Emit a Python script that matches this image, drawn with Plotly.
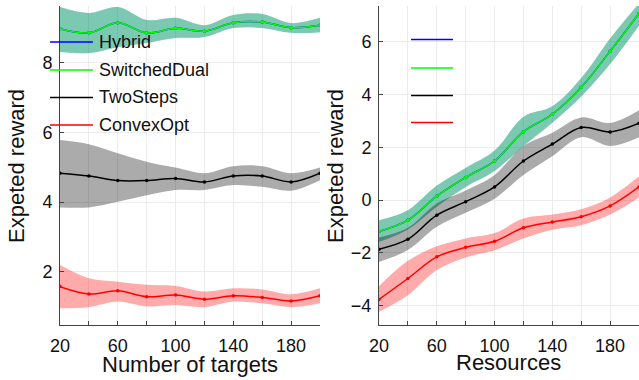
import plotly.graph_objects as go

# ---------------- data ----------------
x_vals = [20, 40, 60, 80, 100, 120, 140, 160, 180, 200]
x_tick_vals = [20, 40, 60, 80, 100, 120, 140, 160, 180, 200]
x_tick_text = ["20", "", "60", "", "100", "", "140", "", "180", ""]
series_names = ["Hybrid", "SwitchedDual", "TwoSteps", "ConvexOpt"]

# left panel: Number of targets
l_hybrid = [8.97, 8.85, 9.14, 8.85, 8.98, 8.90, 9.14, 9.16, 9.00, 9.07]
l_hybrid_hi = [9.59, 9.42, 9.59, 9.22, 9.28, 9.07, 9.36, 9.39, 9.13, 9.28]
l_hybrid_lo = [8.30, 8.27, 8.44, 8.56, 8.70, 8.73, 8.99, 8.99, 8.85, 8.87]
l_switched = [8.97, 8.85, 9.14, 8.85, 8.98, 8.90, 9.14, 9.16, 9.00, 9.07]
l_switched_hi = [9.59, 9.42, 9.59, 9.22, 9.28, 9.07, 9.36, 9.39, 9.13, 9.28]
l_switched_lo = [8.30, 8.27, 8.44, 8.56, 8.70, 8.73, 8.99, 8.99, 8.85, 8.87]
l_two = [4.83, 4.75, 4.62, 4.62, 4.68, 4.58, 4.75, 4.75, 4.58, 4.83]
l_two_hi = [5.78, 5.66, 5.40, 5.16, 4.99, 4.83, 5.03, 5.03, 4.83, 4.99]
l_two_lo = [3.85, 3.85, 4.01, 4.20, 4.35, 4.35, 4.49, 4.44, 4.33, 4.63]
l_convex = [1.58, 1.37, 1.46, 1.29, 1.34, 1.22, 1.32, 1.27, 1.17, 1.32]
l_convex_hi = [2.20, 1.82, 1.72, 1.63, 1.60, 1.44, 1.53, 1.50, 1.36, 1.53]
l_convex_lo = [0.96, 0.99, 1.15, 1.01, 1.05, 0.99, 1.15, 1.10, 0.99, 1.10]

# right panel: Resources
r_hybrid = [-1.19, -0.76, 0.15, 0.86, 1.48, 2.59, 3.25, 4.27, 5.64, 7.07]
r_hybrid_hi = [-0.76, -0.38, 0.55, 1.22, 1.88, 3.15, 3.55, 4.62, 6.12, 7.45]
r_hybrid_lo = [-1.58, -1.11, -0.25, 0.50, 1.10, 2.05, 2.93, 3.92, 5.15, 6.60]
r_switched = [-1.19, -0.76, 0.15, 0.86, 1.48, 2.59, 3.25, 4.27, 5.64, 7.07]
r_switched_hi = [-0.76, -0.38, 0.55, 1.22, 1.88, 3.15, 3.55, 4.62, 6.12, 7.45]
r_switched_lo = [-1.58, -1.11, -0.25, 0.50, 1.10, 2.05, 2.93, 3.92, 5.15, 6.60]
r_two = [-1.86, -1.48, -0.57, -0.06, 0.50, 1.48, 2.12, 2.75, 2.58, 2.91]
r_two_hi = [-1.42, -1.05, -0.13, 0.36, 0.95, 2.05, 2.55, 3.13, 2.92, 3.40]
r_two_lo = [-2.34, -1.89, -1.01, -0.48, 0.05, 0.95, 1.66, 2.38, 2.05, 2.38]
r_convex = [-3.76, -2.97, -2.15, -1.79, -1.56, -1.05, -0.83, -0.63, -0.22, 0.50]
r_convex_hi = [-3.26, -2.30, -1.75, -1.45, -1.25, -0.70, -0.55, -0.35, 0.10, 0.90]
r_convex_lo = [-4.23, -3.60, -2.65, -2.17, -1.90, -1.45, -1.12, -0.95, -0.55, 0.10]

left_y_ticks = [2, 4, 6, 8]
right_y_ticks = [-4, -2, 0, 2, 4, 6]

# ---------------- styling ----------------
line_colors = ["rgb(0,0,255)", "rgb(0,255,0)", "rgb(0,0,0)", "rgb(255,0,0)"]
band_colors = ["rgba(0,0,255,0.3)", "rgba(0,255,0,0.3)", "rgba(0,0,0,0.33)", "rgba(255,0,0,0.33)"]
FONT = "Liberation Sans, Arial, sans-serif"
W, H = 639, 380

fig = go.Figure()

left = [(l_hybrid, l_hybrid_hi, l_hybrid_lo), (l_switched, l_switched_hi, l_switched_lo),
        (l_two, l_two_hi, l_two_lo), (l_convex, l_convex_hi, l_convex_lo)]
right = [(r_hybrid, r_hybrid_hi, r_hybrid_lo), (r_switched, r_switched_hi, r_switched_lo),
         (r_two, r_two_hi, r_two_lo), (r_convex, r_convex_hi, r_convex_lo)]

for panel, (xa, ya) in [(left, ("x", "y")), (right, ("x2", "y2"))]:
    for i, (mean, hi, lo) in enumerate(panel):
        fig.add_trace(go.Scatter(x=x_vals, y=hi, xaxis=xa, yaxis=ya, mode="lines",
                                 line=dict(width=0, shape="spline", smoothing=1.0),
                                 showlegend=False, hoverinfo="skip"))
        fig.add_trace(go.Scatter(x=x_vals, y=lo, xaxis=xa, yaxis=ya, mode="lines",
                                 line=dict(width=0, shape="spline", smoothing=1.0),
                                 fill="tonexty", fillcolor=band_colors[i],
                                 showlegend=False, hoverinfo="skip"))
    for i, (mean, hi, lo) in enumerate(panel):
        fig.add_trace(go.Scatter(x=x_vals, y=mean, xaxis=xa, yaxis=ya, mode="lines+markers",
                                 line=dict(color=line_colors[i], width=1.5, shape="spline", smoothing=1.0),
                                 marker=dict(color=line_colors[i], size=3.5),
                                 name=series_names[i], showlegend=False))

axis_common = dict(showline=True, linecolor="#444", linewidth=1, ticks="inside", ticklen=4,
                   tickcolor="#444", showgrid=True, gridcolor="#ececec", gridwidth=1,
                   zeroline=False, automargin=False,
                   tickfont=dict(family=FONT, size=18, color="#111"))

y_bot, y_top = 1 - 325 / H, 1 - 6 / H
fig.update_layout(
    template="none",
    width=W, height=H, margin=dict(l=0, r=0, t=0, b=0, autoexpand=False),
    paper_bgcolor="white", plot_bgcolor="white", showlegend=False,
    xaxis=dict(domain=[60 / W, 320 / W], range=[20, 200], tickvals=x_tick_vals,
               ticktext=x_tick_text, anchor="y", ticklabelstandoff=4, **axis_common),
    yaxis=dict(domain=[y_bot, y_top], range=[0.48, 9.62], tickvals=left_y_ticks,
               anchor="x", ticklabelstandoff=3, **axis_common),
    xaxis2=dict(domain=[379 / W, 1.0], range=[20, 200], tickvals=x_tick_vals,
                ticktext=x_tick_text, anchor="y2", ticklabelstandoff=4, **axis_common),
    yaxis2=dict(domain=[y_bot, y_top], range=[-4.73, 7.35], tickvals=right_y_ticks,
                anchor="x2", ticklabelstandoff=3, **axis_common),
)

label_font = dict(family=FONT, size=22, color="#111")
annos = [
    dict(text="Number of targets", x=190 / W, y=1 - 364 / H, xref="paper", yref="paper",
         showarrow=False, font=label_font, xanchor="center", yanchor="middle"),
    dict(text="Resources", x=509 / W, y=1 - 362 / H, xref="paper", yref="paper",
         showarrow=False, font=label_font, xanchor="center", yanchor="middle"),
    dict(text="Expeted reward", x=16 / W, y=1 - 166 / H, xref="paper", yref="paper",
         showarrow=False, font=label_font, textangle=-90, xanchor="center", yanchor="middle"),
    dict(text="Expeted reward", x=335 / W, y=1 - 166 / H, xref="paper", yref="paper",
         showarrow=False, font=label_font, textangle=-90, xanchor="center", yanchor="middle"),
]

shapes = []
legend_y = [42, 70, 97.5, 125]
for i, name in enumerate(series_names):
    yy = 1 - legend_y[i] / H
    shapes.append(dict(type="line", xref="paper", yref="paper", x0=50 / W, x1=93 / W,
                       y0=yy, y1=yy, line=dict(color=line_colors[i], width=1.5)))
    annos.append(dict(text=name, x=97 / W, y=yy, xref="paper", yref="paper", showarrow=False,
                      font=dict(family=FONT, size=18, color="#111"), xanchor="left", yanchor="middle"))
right_legend_y = [39.5, 68, 95.5, 122.5]
for i in range(len(series_names)):
    yy = 1 - right_legend_y[i] / H
    shapes.append(dict(type="line", xref="paper", yref="paper", x0=411 / W, x1=453 / W,
                       y0=yy, y1=yy, line=dict(color=line_colors[i], width=1.5)))

fig.update_layout(annotations=annos, shapes=shapes)
fig.write_html("out.html")
